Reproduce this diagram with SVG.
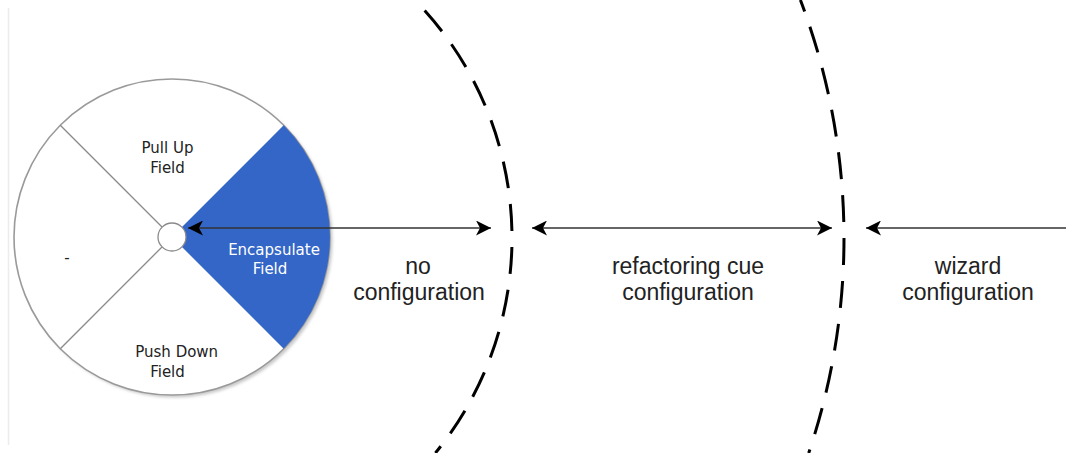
<svg xmlns="http://www.w3.org/2000/svg" width="1074" height="453" viewBox="0 0 1074 453">
  <style>
    .pie { font-family: "DejaVu Sans", "Liberation Sans", sans-serif; font-size: 15px; fill: #222; text-anchor: middle; }
    .pie-w { fill: #ffffff; }
    .lbl { font-family: "Liberation Sans", Arial, sans-serif; font-size: 23px; fill: #222; text-anchor: middle; }
    .div { stroke: #8a8a8a; stroke-width: 1.3; fill: none; }
    .arc { fill: none; stroke: #000; stroke-width: 3; stroke-dasharray: 27 16; }
    .conn { stroke: #333; stroke-width: 1.4; fill: none; }
  </style>
  <defs>
    <marker id="ah" viewBox="0 0 15 15" markerWidth="15" markerHeight="15" markerUnits="userSpaceOnUse" refX="15" refY="7.5" orient="auto-start-reverse">
      <path d="M0,0 L15,7.5 L0,15 L4,7.5 Z" fill="#000"/>
    </marker>
    <filter id="sh" x="-10%" y="-10%" width="120%" height="120%">
      <feGaussianBlur stdDeviation="1.8"/>
    </filter>
  </defs>
  <rect width="1074" height="453" fill="#ffffff"/>
  <line x1="8.5" y1="8" x2="8.5" y2="445" stroke="#ececec" stroke-width="1.5"/>

  <g id="pie">
    <circle cx="174.5" cy="239.5" r="158" fill="#c8c8c8" filter="url(#sh)"/>
    <circle cx="172" cy="237" r="158" fill="#ffffff" stroke="#9a9a9a" stroke-width="1.6"/>
    <path id="wedge-encapsulate" d="M172,237 L283.7,125.3 A158,158 0 0 1 283.7,348.7 Z" fill="#3366c6"/>
    <line class="div" x1="172" y1="237" x2="60.3" y2="125.3"/>
    <line class="div" x1="172" y1="237" x2="60.3" y2="348.7"/>
    <circle cx="172" cy="237" r="14" fill="#ffffff" stroke="#8a8a8a" stroke-width="1.3"/>
  </g>
  <g id="pull-up-field">
    <text class="pie" x="167.5" y="153">Pull Up</text>
    <text class="pie" x="167.5" y="173">Field</text>
  </g>
  <g id="encapsulate-field">
    <text class="pie pie-w" x="274" y="255">Encapsulate</text>
    <text class="pie pie-w" x="270" y="274">Field</text>
  </g>
  <g id="dash-slice">
    <text class="pie" x="67" y="263">-</text>
  </g>
  <g id="push-down-field">
    <text class="pie" x="176.7" y="357">Push Down</text>
    <text class="pie" x="167.5" y="377">Field</text>
  </g>

  <g id="boundaries">
    <path class="arc" d="M414.8,0 A340,340 0 0 1 435.4,453" stroke-dashoffset="28.5"/>
    <path class="arc" d="M800.4,0 A672,672 0 0 1 808.7,453" stroke-dashoffset="14.7"/>
  </g>

  <g id="connectors">
    <line class="conn" x1="188" y1="228" x2="491" y2="228" marker-start="url(#ah)" marker-end="url(#ah)"/>
    <line class="conn" x1="532" y1="228" x2="832" y2="228" marker-start="url(#ah)" marker-end="url(#ah)"/>
    <line class="conn" x1="866" y1="228" x2="1066" y2="228" marker-start="url(#ah)"/>
  </g>

  <g id="no-configuration">
    <text class="lbl" x="418" y="274">no</text>
    <text class="lbl" x="419" y="300">configuration</text>
  </g>
  <g id="refactoring-cue-configuration">
    <text class="lbl" x="688" y="274">refactoring cue</text>
    <text class="lbl" x="688" y="300">configuration</text>
  </g>
  <g id="wizard-configuration">
    <text class="lbl" x="968" y="274">wizard</text>
    <text class="lbl" x="968" y="300">configuration</text>
  </g>
</svg>
